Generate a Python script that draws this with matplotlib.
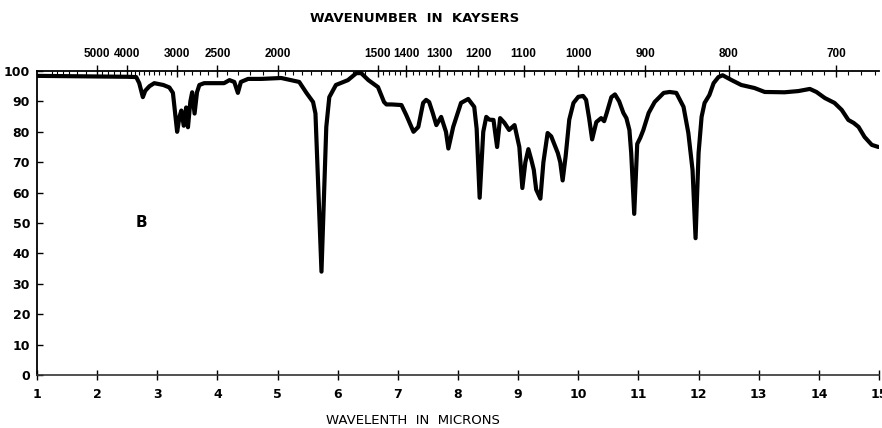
import numpy as np
import matplotlib
matplotlib.use("Agg")
import matplotlib.pyplot as plt

# ---- data ----
wavelength = [1.0, 1.5, 2.0, 2.5, 2.65, 2.70, 2.76, 2.80, 2.87, 2.95, 3.10, 3.20, 3.26,
              3.33, 3.37, 3.40, 3.44, 3.48, 3.51, 3.55, 3.58, 3.62, 3.66, 3.70, 3.78,
              4.11, 4.20, 4.28, 4.34, 4.39, 4.51, 4.73, 5.06, 5.36, 5.48, 5.59, 5.63,
              5.73, 5.81, 5.86, 5.97, 6.17, 6.31, 6.39, 6.51, 6.67, 6.77, 6.81, 6.90,
              7.06, 7.14, 7.26, 7.34, 7.42, 7.47, 7.52, 7.58, 7.64, 7.72, 7.80, 7.84,
              7.92, 8.05, 8.17, 8.27, 8.31, 8.36, 8.42, 8.47, 8.52, 8.59, 8.65, 8.70,
              8.77, 8.85, 8.94, 9.02, 9.07, 9.12, 9.17, 9.22, 9.26, 9.30, 9.37, 9.42,
              9.49, 9.55, 9.62, 9.66, 9.70, 9.74, 9.79, 9.85, 9.92, 10.0, 10.08, 10.13,
              10.18, 10.23, 10.30, 10.38, 10.43, 10.47, 10.55, 10.61, 10.68, 10.75,
              10.80, 10.85, 10.88, 10.93, 10.98, 11.03, 11.08, 11.17, 11.27, 11.42,
              11.52, 11.63, 11.75, 11.83, 11.90, 11.95, 12.0, 12.05, 12.10, 12.18,
              12.25, 12.33, 12.40, 12.55, 12.71, 12.93, 13.10, 13.43, 13.66, 13.85,
              13.96, 14.10, 14.26, 14.38, 14.49, 14.58, 14.66, 14.76, 14.88, 14.99]
transmittance = [98.4, 98.3, 98.2, 98.1, 98.0, 96.0, 91.4, 93.5, 95.0, 96.0, 95.4, 94.6, 92.8,
                 80.0, 85.0, 87.0, 82.0, 88.0, 81.5, 90.0, 93.0, 86.0, 93.0, 95.4, 96.0,
                 96.0, 97.0, 96.4, 92.8, 96.4, 97.4, 97.4, 97.7, 96.4, 92.8, 89.8, 86.0,
                 34.0, 81.6, 91.4, 95.4, 97.0, 99.3, 99.3, 97.0, 94.7, 89.8, 89.0, 89.0,
                 88.8, 85.5, 80.0, 81.6, 89.5, 90.5, 89.8, 86.2, 82.2, 84.9, 80.0, 74.5,
                 81.6, 89.5, 90.8, 88.2, 81.0, 58.3, 80.0, 84.9, 84.0, 83.9, 75.0, 84.5,
                 83.0, 80.6, 82.2, 75.0, 61.5, 70.0, 74.3, 70.7, 67.5, 61.0, 58.0, 70.0,
                 79.6, 78.5, 75.0, 73.0, 70.0, 64.0, 72.0, 84.0, 89.5, 91.5, 91.8, 90.5,
                 84.5, 77.5, 83.2, 84.5, 83.5, 86.0, 91.4, 92.3, 90.0, 86.2,
                 84.5, 80.6, 73.0, 53.0, 76.0, 78.0, 80.5, 86.2, 89.8, 92.8,
                 93.1, 92.8, 88.2, 79.6, 67.4, 45.0, 73.0, 84.9, 89.5, 92.1,
                 96.0, 98.0, 98.6, 97.0, 95.4, 94.4, 93.1, 93.0, 93.4, 94.1,
                 93.1, 91.1, 89.5, 87.2, 83.9, 82.9, 81.6, 78.3, 75.7, 75.0]

micron_ticks = list(range(1, 16))
percent_ticks = list(range(0, 101, 10))
wavenumber_labels = [5000, 4000, 3000, 2500, 2000, 1500, 1400, 1300, 1200, 1100,
                     1000, 900, 800, 700]

# ---- figure ----
fig = plt.figure(figsize=(8.82, 4.28), dpi=100)
x0, x1 = 37 / 882, 879 / 882
y0, y1 = 1 - 375 / 428, 1 - 71 / 428
ax = fig.add_axes([x0, y0, x1 - x0, y1 - y0])

ax.plot(wavelength, transmittance, color="black", lw=3.0,
        solid_joinstyle="round", solid_capstyle="round")
ax.set_xlim(1, 15)
ax.set_ylim(0, 100)

font = dict(family="DejaVu Sans", weight="bold")
topfont = dict(family="Liberation Sans", weight="bold")

ax.set_xticks(micron_ticks)
ax.set_xticklabels([str(t) for t in micron_ticks], fontsize=9, **font)
ax.set_yticks(percent_ticks)
ax.set_yticklabels([str(t) for t in percent_ticks], fontsize=9, **font)
ax.tick_params(axis="x", direction="inout", length=7, width=1, pad=6)
ax.tick_params(axis="y", direction="in", length=4, width=1, pad=5)
for s in ["top", "right"]:
    ax.spines[s].set_visible(False)
ax.spines["left"].set_linewidth(1.3)
ax.spines["bottom"].set_linewidth(1.2)
ax.spines["bottom"].set_color("#333333")

# top wavenumber axis
ax2 = ax.twiny()
ax2.set_xlim(1, 15)
ax2.set_xticks([10000 / w for w in wavenumber_labels])
ax2.set_xticklabels([str(w) for w in wavenumber_labels], fontsize=8.5, **topfont)
minor_wn = np.concatenate([np.arange(8000, 5000, -500), np.arange(5000, 4000, -200),
                           np.arange(4000, 2000, -100), np.arange(2000, 1500, -50),
                           np.arange(1500, 1000, -20), np.arange(1000, 660, -10)])
ax2.set_xticks(10000 / minor_wn, minor=True)
ax2.tick_params(axis="x", which="major", direction="inout", length=8, width=1, pad=4)
ax2.tick_params(axis="x", which="minor", direction="in", length=3, width=0.8)
for s in ["left", "right", "bottom"]:
    ax2.spines[s].set_visible(False)
ax2.spines["top"].set_linewidth(1.3)

ax.text(2.73, 50.3, "B", fontsize=11, ha="center", va="center", **font)

fig.text(415 / 882, 1 - 18 / 428, "WAVENUMBER  IN  KAYSERS", ha="center", va="center",
         fontsize=9.5, **font)
fig.text(413 / 882, 1 - 421 / 428, "WAVELENTH  IN  MICRONS", ha="center", va="center",
         fontsize=9.5, family="DejaVu Sans")

fig.savefig("out.png", dpi=100)
